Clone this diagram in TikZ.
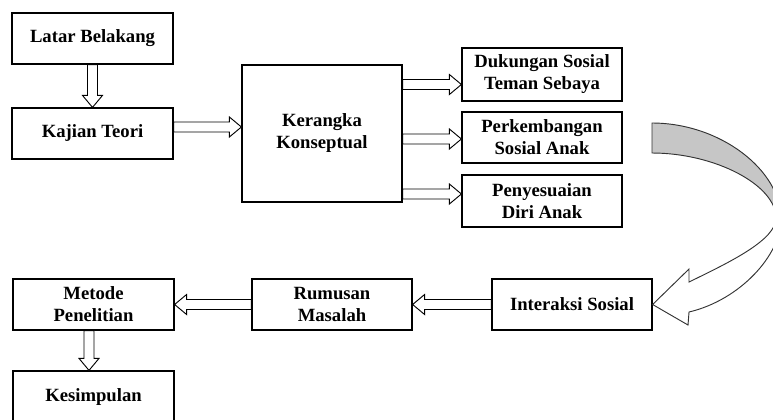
\documentclass[tikz,border=0pt]{standalone}
\usepackage{fontspec}
\setmainfont{Liberation Serif}
\usepackage{tikz}
\usetikzlibrary{positioning,calc}
\colorlet{bandgray}{gray!45}
\newcommand{\bandpath}{(652,123) .. controls (720,123) and (781,170) .. (781,219) .. controls (781,255) and (740,300) .. (689,312) -- (688,325) -- (is.east) -- (689,269) -- (689,282) .. controls (730,262) and (776,240) .. (776,218) .. controls (776,185) and (715,153) .. (652,153) -- cycle}

\begin{document}
\begin{tikzpicture}[x=0.75pt, y=-0.75pt, font=\bfseries\fontsize{14}{16.5}\selectfont,
  box/.style={draw,line width=0.9pt,align=center,minimum width=120.75pt,minimum height=38.25pt,inner sep=2pt},
  blk/.style={draw,fill=white,line width=0.7pt,line join=miter,to path={
    ($(\tikztostart)!3.75pt!90:(\tikztotarget)$)
    -- ($($(\tikztotarget)!9pt!(\tikztostart)$)!3.75pt!-90:(\tikztostart)$)
    -- ($($(\tikztotarget)!9pt!(\tikztostart)$)!7.5pt!-90:(\tikztostart)$)
    -- (\tikztotarget)
    -- ($($(\tikztotarget)!9pt!(\tikztostart)$)!7.5pt!90:(\tikztostart)$)
    -- ($($(\tikztotarget)!9pt!(\tikztostart)$)!3.75pt!90:(\tikztostart)$)
    -- ($(\tikztostart)!3.75pt!-90:(\tikztotarget)$) -- cycle}}]
\clip (0,0) rectangle (773,419);
\node[box] (lb) at (92.5,38.5) {Latar Belakang};
\node[box] (kt) at (92.5,133.5) {Kajian Teori};
\node[box,minimum width=120pt,minimum height=102.75pt] (kk) at (322,133.5) {Kerangka\\Konseptual};
\node[box,minimum width=120pt,minimum height=39.75pt] (ds) at (542,74.5) {Dukungan Sosial\\Teman Sebaya};
\node[box,minimum width=120pt] (pk) at (542,137.5) {Perkembangan\\Sosial Anak};
\node[box,minimum width=120pt,minimum height=39pt] (pd) at (542,201) {Penyesuaian\\Diri Anak};
\node[box] (mp) at (93.5,304.5) {Metode\\Penelitian};
\node[box,minimum width=120pt] (rm) at (332,304.5) {Rumusan\\Masalah};
\node[box,minimum width=120pt] (is) at (572,304.5) {Interaksi Sosial};
\node[box] (ks) at (93.5,396.5) {Kesimpulan};
\draw[blk] (lb.south) to (kt.north);
\draw[blk] (kt.east |- 0,127) to (kk.west |- 0,127);
\draw[blk] (kk.east |- 0,84.5) to (ds.west |- 0,84.5);
\draw[blk] (kk.east |- 0,139) to (pk.west |- 0,139);
\draw[blk] (kk.east |- 0,194) to (pd.west |- 0,194);
\draw[blk] (is.west) to (rm.east);
\draw[blk] (rm.west) to (mp.east);
\draw[blk] (89,0 |- mp.south) to (89,0 |- ks.north);
\begin{scope}
  \clip (600,100) rectangle (800,218);
  \fill[bandgray] \bandpath;
\end{scope}
\draw[line width=0.7pt,draw=black!80] \bandpath;
\end{tikzpicture}
\end{document}
